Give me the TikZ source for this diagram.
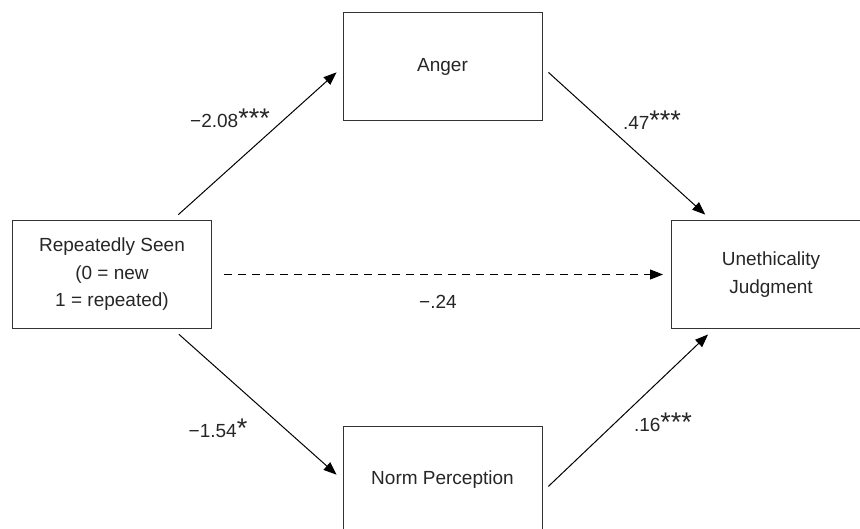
\documentclass[tikz,border=0pt]{standalone}
\usepackage{fontspec}
\setmainfont{Liberation Sans}
\usetikzlibrary{arrows.meta}
\newcommand{\sigstars}[1]{{\fontsize{27}{27}\selectfont #1}}

\begin{document}
\begin{tikzpicture}[x=1pt,y=-1pt,>={Triangle[length=13pt,width=10pt]},
font=\fontsize{19}{27.5}\selectfont,
box/.style={draw=black!80,line width=1pt,minimum width=199pt,minimum height=108pt,align=center,text=black!85},
arr/.style={->,line width=1pt,shorten >=8pt,shorten <=8pt},
lbl/.style={text=black!85}]
\useasboundingbox (0,0) rectangle (860,529);
\clip (0,0) rectangle (860,529);
\node[box] (rep) at (112,274.5) {Repeatedly Seen\\(0 = new\\1 = repeated)};
\node[box] (anger) at (442.5,67) {Anger};
\node[box] (norm) at (442.5,480) {Norm Perception};
\node[box] (uneth) at (771,274.5) {Unethicality\\Judgment};
\draw[arr] (rep) -- (anger.west);
\draw[arr] (rep) -- (norm.west);
\draw[arr] (anger.east) -- (uneth);
\draw[arr] ([yshift=-12pt]norm.east) -- (uneth);
\draw[arr,dash pattern=on 8pt off 6pt,shorten <=12pt] (rep) -- (uneth);
\node[lbl] (a) at (230,118) {−2.08\sigstars{***}};
\node[lbl] (b) at (652,120) {.47\sigstars{***}};
\node[lbl] (c) at (438,302) {−.24};
\node[lbl] (d) at (218,428) {−1.54\sigstars{*}};
\node[lbl] (e) at (663,422) {.16\sigstars{***}};
\end{tikzpicture}
\end{document}
